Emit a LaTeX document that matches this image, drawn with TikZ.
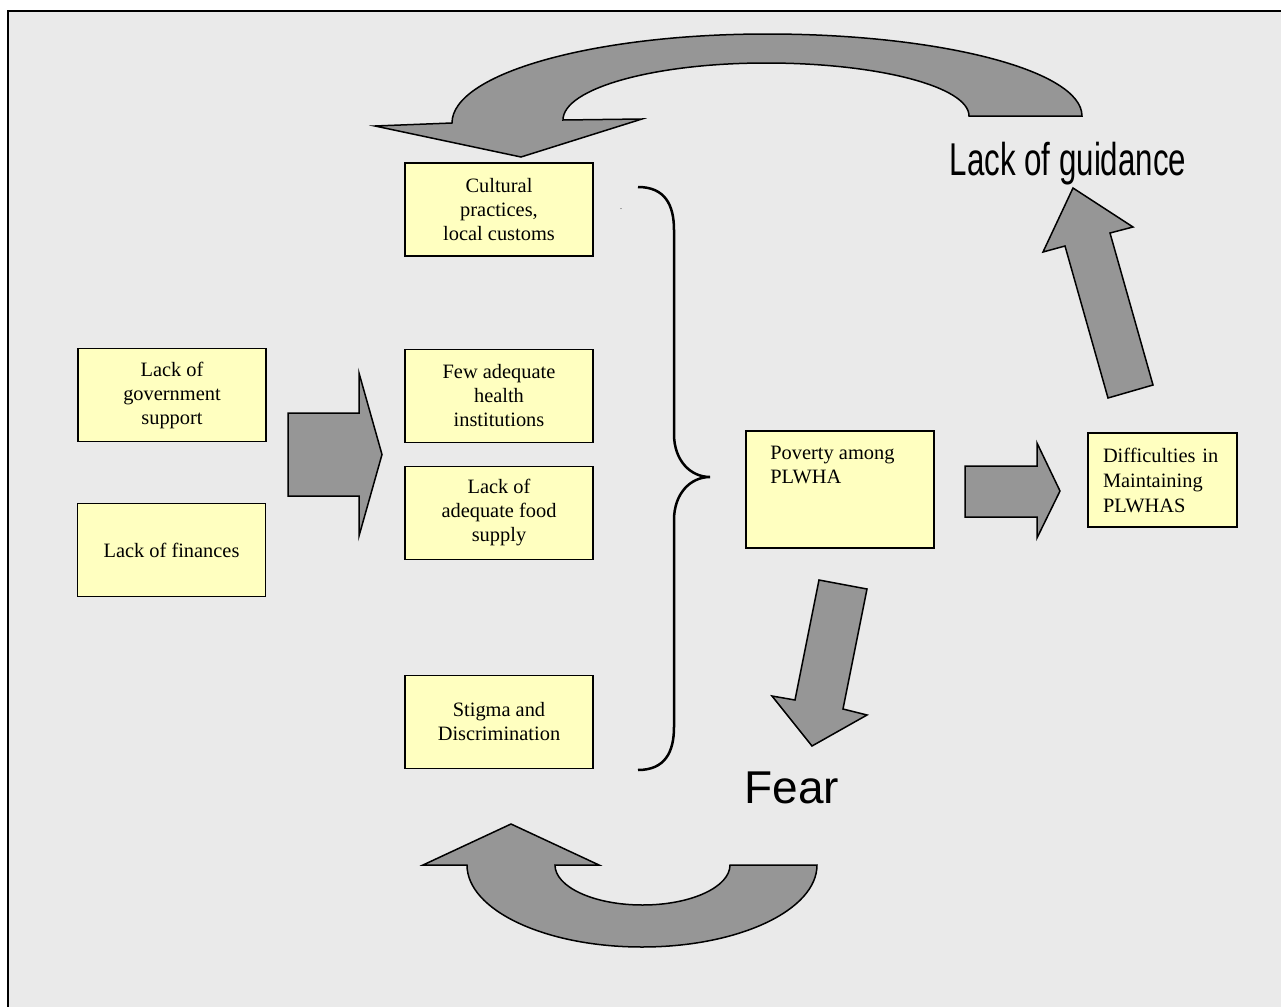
\documentclass[tikz,border=0pt]{standalone}
\usepackage{fontspec}
\setmainfont{Liberation Serif}
\newfontfamily\arialf{Liberation Sans}
\definecolor{bgc}{HTML}{EAEAEA}
\definecolor{boxc}{HTML}{FFFFC0}
\definecolor{arrc}{HTML}{969696}
\begin{document}
\begin{tikzpicture}[x=0.5pt,y=-0.5pt,
  ybox/.style={draw, line width=0.75pt, fill=boxc, minimum width=94pt, minimum height=46.5pt,
    align=center, inner sep=2pt, font=\fontsize{10.2}{12}\selectfont},
  blockarrow/.style={draw, line width=0.75pt, fill=arrc, line join=miter},
  bigtext/.style={inner sep=0pt, anchor=base}]
\useasboundingbox (0,0) rectangle (1281,1007);
\fill[bgc] (8,11) rectangle (1281,1007);
\draw[line width=1pt] (8,1007) -- (8,11) -- (1281,11);

% boxes
\node[ybox] (gov) at (172,395) {Lack of\\government\\support};
\node[ybox] (fin) at (171.5,550) {Lack of finances};
\node[ybox] (cult) at (499,209.5) {Cultural\\practices,\\local customs};
\node[ybox] (health) at (499,396) {Few adequate\\health\\institutions};
\node[ybox] (food) at (499,513) {Lack of\\adequate food\\supply};
\node[ybox] (stigma) at (499,722) {Stigma and\\Discrimination};
\node[ybox, minimum height=58.5pt] (poverty) at (840,489.5) {};
\node[anchor=north west, inner sep=0pt, align=left, font=\fontsize{10.2}{12}\selectfont] (povtext) at (770,446) {Poverty among\\PLWHA};
\node[ybox, minimum width=74.5pt, minimum height=47pt, text width=59.5pt, inner xsep=7.5pt, align=left,
  font=\fontsize{10.2}{12.5}\selectfont] (diff) at (1162.5,480) {Difficulties in\\Maintaining\\PLWHAS};

% small dot
\node[inner sep=0pt, font=\fontsize{4}{4}\selectfont] (dot) at (621,209) {.};

% big texts
\node[bigtext, font=\arialf\fontsize{23}{23}\selectfont] (guid) at (1068,175) {\scalebox{0.68}[1]{Lack of guidance}};
\node[bigtext, font=\arialf\fontsize{23}{23}\selectfont] (fear) at (792,803) {Fear};

% straight block arrows
\draw[blockarrow] (288,413) -- (359,413) -- (359,373) -- (382,454.5) -- (359,536) -- (359,496) -- (288,496) -- cycle;
\draw[blockarrow] (965,466) -- (1037,466) -- (1037,443) -- (1060,491) -- (1037,538) -- (1037,517) -- (965,517) -- cycle;
\draw[blockarrow] (1108,398) -- (1065,246) -- (1043,252) -- (1073,188) -- (1133,227) -- (1110,233) -- (1153,385) -- cycle;
\draw[blockarrow] (819,580) -- (867,589) -- (843,709) -- (867,715) -- (812,746) -- (772,696) -- (795,700) -- cycle;

% top curved arrow
\draw[blockarrow] (1082,116)
  .. controls (1082,70.7) and (941,34) .. (767,34)
  .. controls (593,34) and (452,73.8) .. (452,123)
  -- (375,126) -- (521,157) -- (642,119) -- (563,120)
  .. controls (563,88.5) and (654,63) .. (766,63)
  .. controls (878,63) and (969,86.7) .. (969,116) -- cycle;

% bottom curved arrow
\draw[blockarrow] (817,865)
  .. controls (817,910) and (739,947) .. (642,947)
  .. controls (545,947) and (467,910) .. (467,865)
  -- (423,865) -- (511,824) -- (599,865) -- (555,865)
  .. controls (555,887) and (594,905) .. (642.5,905)
  .. controls (691,905) and (730,887) .. (730,865) -- cycle;

% brace
\draw[line width=1.25pt] (638,187) .. controls (665,187) and (674,205) .. (674,230)
  -- (674,434) .. controls (674,460) and (690,477) .. (710,477)
  .. controls (690,477) and (674,494) .. (674,520)
  -- (674,727) .. controls (674,752) and (665,770) .. (638,770);
\end{tikzpicture}
\end{document}
